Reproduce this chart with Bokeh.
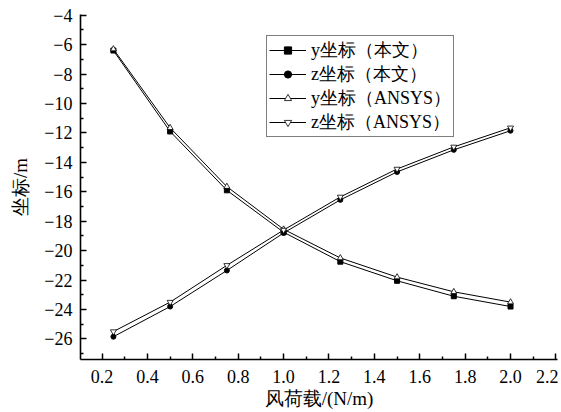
from bokeh.plotting import figure
from bokeh.models import FixedTicker, Legend, LegendItem, Range1d
from bokeh.embed import file_html
from bokeh.resources import INLINE

# data
wind_load = [0.25, 0.5, 0.75, 1.0, 1.25, 1.5, 1.75, 2.0]
y_paper = [-6.4, -11.9, -15.9, -18.75, -20.75, -22.05, -23.1, -23.8]
z_paper = [-25.85, -23.8, -21.35, -18.8, -16.55, -14.65, -13.15, -11.85]
y_ansys = [-6.3, -11.65, -15.65, -18.55, -20.5, -21.8, -22.8, -23.5]
z_ansys = [-25.5, -23.5, -21.0, -18.6, -16.35, -14.45, -12.95, -11.65]

x_ticks = [0.2, 0.4, 0.6, 0.8, 1.0, 1.2, 1.4, 1.6, 1.8, 2.0, 2.2]
x_minor = [0.3, 0.5, 0.7, 0.9, 1.1, 1.3, 1.5, 1.7, 1.9, 2.1]
y_ticks = [-26, -24, -22, -20, -18, -16, -14, -12, -10, -8, -6, -4]
y_minor = [-27, -25, -23, -21, -19, -17, -15, -13, -11, -9, -7, -5]

labels = ["y坐标（本文）", "z坐标（本文）", "y坐标（ANSYS）", "z坐标（ANSYS）"]

FONT = "Liberation Serif"

p = figure(width=558, height=411, output_backend="svg", toolbar_location=None,
           x_range=Range1d(0.105, 2.207), y_range=Range1d(-27.4, -3.95),
           min_border_left=80, min_border_right=1, min_border_top=14, min_border_bottom=10)
p.outline_line_color = None
p.xgrid.visible = False
p.ygrid.visible = False
p.background_fill_color = "white"

def style_axis(ax):
    ax.axis_line_color = "black"
    ax.axis_line_width = 1.6
    ax.major_tick_in = 6
    ax.major_tick_out = 0
    ax.minor_tick_in = 3
    ax.minor_tick_out = 0
    ax.major_tick_line_width = 1.5
    ax.minor_tick_line_width = 1.5
    ax.major_tick_line_color = "black"
    ax.minor_tick_line_color = "black"
    ax.major_label_text_font = FONT
    ax.major_label_text_font_size = "18px"
    ax.major_label_text_color = "black"
    ax.axis_label_text_font = FONT
    ax.axis_label_text_font_size = "19px"
    ax.axis_label_text_font_style = "normal"
    ax.axis_label_text_color = "black"

style_axis(p.xaxis[0])
style_axis(p.yaxis[0])
p.xaxis[0].ticker = FixedTicker(ticks=x_ticks, minor_ticks=x_minor)
p.yaxis[0].ticker = FixedTicker(ticks=y_ticks, minor_ticks=y_minor)
p.xaxis[0].major_label_overrides = {t: f"{t:.1f}" for t in x_ticks}
p.yaxis[0].major_label_overrides = {t: f"−{abs(t)}" for t in y_ticks}
p.xaxis[0].axis_label = "风荷载/(N/m)"
p.yaxis[0].axis_label = "坐标/m"
p.xaxis[0].major_label_standoff = 10
p.yaxis[0].major_label_standoff = 8
p.xaxis[0].axis_label_standoff = 2
p.yaxis[0].axis_label_standoff = 10

l1 = p.line(wind_load, y_paper, line_color="black", line_width=1)
m1 = p.scatter(wind_load, y_paper, marker="square", size=5, fill_color="black", line_color="black")
l2 = p.line(wind_load, z_paper, line_color="black", line_width=1)
m2 = p.scatter(wind_load, z_paper, marker="circle", size=5, fill_color="black", line_color="black")
l3 = p.line(wind_load, y_ansys, line_color="black", line_width=1)
m3 = p.scatter(wind_load, y_ansys, marker="triangle", size=6, fill_color="white", line_color="black", line_width=0.8)
l4 = p.line(wind_load, z_ansys, line_color="black", line_width=1)
m4 = p.scatter(wind_load, z_ansys, marker="inverted_triangle", size=6, fill_color="white", line_color="black", line_width=0.8)

legend = Legend(items=[
    LegendItem(label=labels[0], renderers=[l1, m1]),
    LegendItem(label=labels[1], renderers=[l2, m2]),
    LegendItem(label=labels[2], renderers=[l3, m3]),
    LegendItem(label=labels[3], renderers=[l4, m4]),
], location=(186, 222))
legend.border_line_color = "black"
legend.border_line_width = 1
legend.background_fill_alpha = 1
legend.label_text_font = FONT
legend.label_text_font_size = "18px"
legend.label_text_color = "black"
legend.glyph_width = 37
legend.glyph_height = 18
legend.label_height = 18
legend.spacing = 0
legend.padding = 2
legend.margin = 0
legend.label_standoff = 5
p.add_layout(legend)

open("out.html", "w").write(file_html(p, INLINE))
